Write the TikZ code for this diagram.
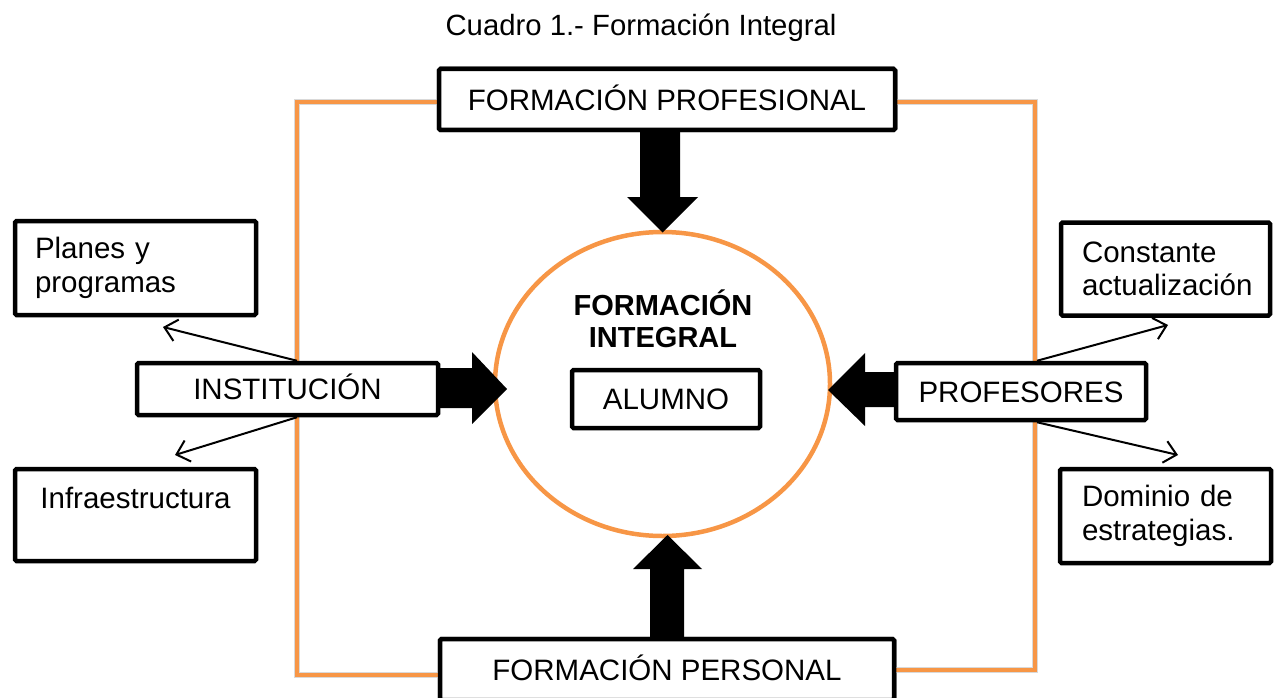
\documentclass[tikz,border=0pt]{standalone}
\usepackage{fontspec}
\setmainfont{Liberation Sans}
\usetikzlibrary{arrows.meta,shapes.geometric}
\definecolor{orng}{HTML}{F79646}
\begin{document}
\begin{tikzpicture}[x=1pt,y=-1pt,
  box/.style={draw=black, line width=4.5pt, rounded corners=1.5pt, fill=white,
    font=\fontsize{29.5}{33.5}\selectfont, inner sep=0pt},
  capline/.style={text height=21.1pt, text depth=0pt},
  orangeline/.style={draw=orng, line width=4pt},
  shadeline/.style={draw=black!15, line width=6pt, line join=miter},
  thinarrow/.style={line width=2pt, -{Straight Barb[length=12pt,width=22pt]}},
  blockarrow/.style={fill=black, draw=none}]
\useasboundingbox (0,0) rectangle (1276,698);
\clip (0,0) rectangle (1276,698);

% title
\node[anchor=base, font=\fontsize{29.3}{33}\selectfont, inner sep=0pt] (title) at (641,36) {Cuadro 1.- Formación Integral};

% corner coordinates of the orange frame
\coordinate (ltop) at (297,102);
\coordinate (lbot) at (297,675);
\coordinate (rtop) at (1035,102);
\coordinate (rbot) at (1035,670);

% main boxes (named here; drawn again over the frame below)
\path (667,99.5) node[box, capline, minimum width=456, minimum height=61] (pro) {FORMACIÓN PROFESIONAL};
\path (667,669.5) node[box, capline, minimum width=454, minimum height=61] (per) {FORMACIÓN PERSONAL};

% shadows and orange frame
\begin{scope}[shift={(2,3)}]
\draw[shadeline] (pro.west |- ltop) -- (ltop) -- (lbot) -- (per.west |- lbot);
\draw[shadeline] (pro.east |- rtop) -- (rtop) -- (rbot) -- (per.east |- rbot);
\end{scope}
\draw[orangeline] (pro.west |- ltop) -- (ltop) -- (lbot) -- (per.west |- lbot);
\draw[orangeline] (pro.east |- rtop) -- (rtop) -- (rbot) -- (per.east |- rbot);

% redraw main boxes on top
\path (667,99.5) node[box, capline, minimum width=456, minimum height=61] {FORMACIÓN PROFESIONAL};
\path (667,669.5) node[box, capline, minimum width=454, minimum height=61] {FORMACIÓN PERSONAL};

% side boxes
\node[box, capline, minimum width=301, minimum height=52] (inst) at (287.5,389) {INSTITUCIÓN};
\node[box, capline, minimum width=250, minimum height=57] (prof) at (1021,391.5) {PROFESORES};

\node[box, minimum width=241, minimum height=94, text width=201, align=left, inner xsep=20pt] (plan) at (135.5,268) {Planes y\\programas};
\node[box, minimum width=241, minimum height=92, align=center] (infra) at (135.5,515) {Infraestructura\\\mbox{}};
\node[box, minimum width=209, minimum height=93, text width=167, align=left, inner xsep=21pt] (const) at (1165.5,269) {Constante\\actualización};
\node[box, minimum width=211, minimum height=94, text width=167, align=left, inner xsep=22pt] (dom) at (1165.5,516) {Dominio de\\estrategias.};

% central ellipse
\node[draw=orng, line width=4.5pt, ellipse, minimum width=335, minimum height=304, inner sep=0pt] (circ) at (662.5,384) {};
\node[font=\bfseries\fontsize{29}{32.5}\selectfont, align=center, inner sep=0pt] (ftxt) at (663,319) {FORMACIÓN\\INTEGRAL};
\node[box, capline, minimum width=188, minimum height=58] (alu) at (666,399) {ALUMNO};

% block arrows
\fill[blockarrow] (640,131) -- (680,131) -- (680,197) -- (698,197) -- (662.5,232.5) -- (627,197) -- (640,197) -- cycle;
\fill[blockarrow] (650,639) -- (684,639) -- (684,569) -- (702,569) -- (667.5,535) -- (633,569) -- (650,569) -- cycle;
\fill[blockarrow] (437,368) -- (472,368) -- (472,352) -- (507,389) -- (472,424) -- (472,408) -- (437,408) -- cycle;
\fill[blockarrow] (897,372) -- (865,372) -- (865,353) -- (828,390) -- (865,426) -- (865,407) -- (897,407) -- cycle;

% thin arrows
\coordinate (pa) at (163,327);
\coordinate (ia) at (175,455);
\coordinate (ca) at (1168,325);
\coordinate (da) at (1178,455);
\draw[thinarrow] (inst.north -| ltop) -- (pa);
\draw[thinarrow] (inst.south -| ltop) -- (ia);
\draw[thinarrow] ([xshift=2pt]prof.north -| rtop) -- (ca);
\draw[thinarrow] ([xshift=2pt]prof.south -| rtop) -- (da);
\end{tikzpicture}
\end{document}
